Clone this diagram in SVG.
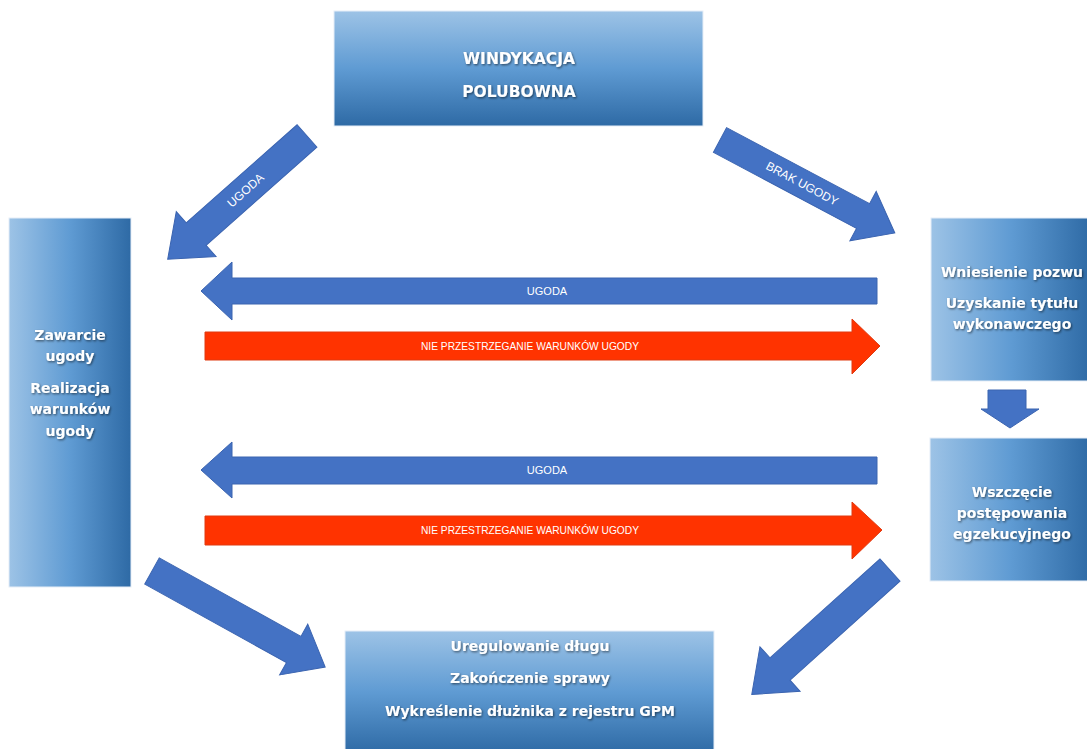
<svg xmlns="http://www.w3.org/2000/svg" width="1087" height="749" viewBox="0 0 1087 749">
<defs>
<linearGradient id="gv" x1="0" y1="0" x2="0" y2="1">
<stop offset="0" stop-color="#9dc3e6"/><stop offset="0.5" stop-color="#5f9bd3"/><stop offset="1" stop-color="#2e6aa5"/>
</linearGradient>
<linearGradient id="gh" x1="0" y1="0" x2="1" y2="0">
<stop offset="0" stop-color="#9dc3e6"/><stop offset="0.5" stop-color="#5f9bd3"/><stop offset="1" stop-color="#2e6aa5"/>
</linearGradient>
<filter id="sh" x="-10%" y="-30%" width="120%" height="160%">
<feDropShadow dx="1" dy="1.2" stdDeviation="1" flood-color="#000" flood-opacity="0.55"/>
</filter>
</defs>
<style>
.box{stroke:#e6eef7;stroke-width:1}
.t{font-family:"DejaVu Sans",Verdana,sans-serif;font-weight:bold;font-size:14px;fill:#fff;text-anchor:middle;filter:url(#sh)}
.tu{font-size:15.5px}
.ab{fill:#4472c4;stroke:#3b64b0;stroke-width:1}
.ar{fill:#ff3300;stroke:#e03a10;stroke-width:1}
.l{font-family:"Liberation Sans",Arial,sans-serif;font-size:11px;fill:#fff;text-anchor:middle}
.ld{font-size:12px}
</style>
<rect width="1087" height="749" fill="#fff"/>

<g id="windykacja">
<rect class="box" x="334" y="11" width="369" height="115" fill="url(#gv)"/>
<text class="t tu" x="519" y="64">WINDYKACJA</text>
<text class="t tu" x="519" y="97">POLUBOWNA</text>
</g>

<g id="zawarcie">
<rect class="box" x="9" y="218" width="122" height="369" fill="url(#gh)"/>
<text class="t" x="70" y="340">Zawarcie</text>
<text class="t" x="70" y="361">ugody</text>
<text class="t" x="70" y="393">Realizacja</text>
<text class="t" x="70" y="414">warunków</text>
<text class="t" x="70" y="436">ugody</text>
</g>

<g id="pozew">
<rect class="box" x="931" y="218" width="160" height="163" fill="url(#gh)"/>
<text class="t" x="1012" y="277">Wniesienie pozwu</text>
<text class="t" x="1012" y="308">Uzyskanie tytułu</text>
<text class="t" x="1012" y="329">wykonawczego</text>
</g>

<g id="egzekucja">
<rect class="box" x="930" y="438" width="161" height="143" fill="url(#gh)"/>
<text class="t" x="1012" y="497">Wszczęcie</text>
<text class="t" x="1012" y="518">postępowania</text>
<text class="t" x="1012" y="539">egzekucyjnego</text>
</g>

<g id="zakonczenie">
<rect class="box" x="345" y="631" width="369" height="122" fill="url(#gv)"/>
<text class="t" x="530" y="651">Uregulowanie długu</text>
<text class="t" x="530" y="683">Zakończenie sprawy</text>
<text class="t" x="530" y="716">Wykreślenie dłużnika z rejestru GPM</text>
</g>

<g id="connectors">
<g transform="translate(307,136) rotate(138.5)">
<polygon class="ab" points="0,-15 148,-15 148,-30 186,0 148,30 148,15 0,15"/>
<text class="l ld" x="82" y="4" transform="rotate(180 82 0)">UGODA</text>
</g>
<g transform="translate(720,140) rotate(28)">
<polygon class="ab" points="0,-14 162,-14 162,-28 198,0 162,28 162,14 0,14"/>
<text class="l ld" x="93" y="4">BRAK UGODY</text>
</g>
<polygon class="ab" points="877,278 232,278 232,262 201,291 232,320 232,304 877,304"/>
<text class="l" x="547" y="295">UGODA</text>
<polygon class="ar" points="205,332 852,332 852,319 880,346 852,374 852,360 205,360"/>
<text class="l" x="530" y="350" textLength="218" lengthAdjust="spacingAndGlyphs">NIE PRZESTRZEGANIE WARUNKÓW UGODY</text>
<polygon class="ab" points="877,457 232,457 232,442 201,470 232,498 232,484 877,484"/>
<text class="l" x="547" y="474">UGODA</text>
<polygon class="ar" points="205,516 852,516 852,502 882,530 852,559 852,545 205,545"/>
<text class="l" x="530" y="534" textLength="218" lengthAdjust="spacingAndGlyphs">NIE PRZESTRZEGANIE WARUNKÓW UGODY</text>
<polygon class="ab" points="988,390 1026,390 1026,409 1039,409 1010,428 981,409 988,409"/>
<g transform="translate(152,571) rotate(29)">
<polygon class="ab" points="0,-15 162,-15 162,-29 198,0 162,29 162,15 0,15"/>
</g>
<g transform="translate(890,570) rotate(138)">
<polygon class="ab" points="0,-15 148,-15 148,-30 186,0 148,30 148,15 0,15"/>
</g>
</g>
</svg>
